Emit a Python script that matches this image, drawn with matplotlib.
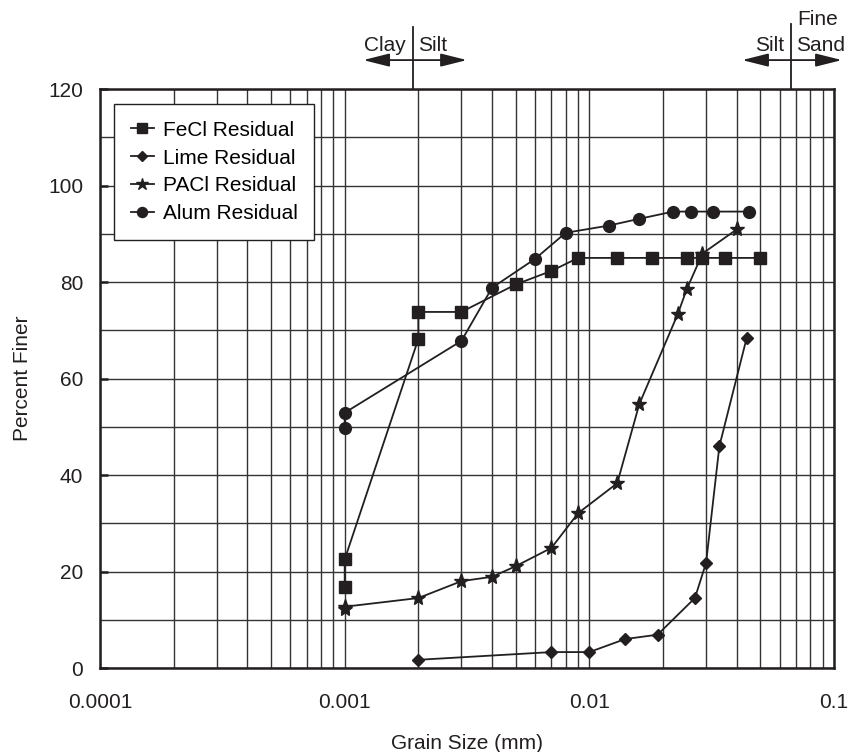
import numpy as np
import matplotlib
matplotlib.use("Agg")
import matplotlib.pyplot as plt
import matplotlib.transforms as mtransforms
from matplotlib.ticker import LogLocator, MultipleLocator, FixedLocator, NullFormatter

plt.rcParams['font.family'] = ['Liberation Sans', 'DejaVu Sans']

# grain size (mm) and percent finer for each residual
fecl_d = [0.001, 0.001, 0.002, 0.002, 0.003, 0.005, 0.007, 0.009, 0.013, 0.018, 0.025, 0.029, 0.036, 0.050]
fecl_p = [16.7, 22.5, 68.2, 73.8, 73.8, 79.5, 82.3, 85.0, 85.0, 85.0, 85.0, 85.0, 85.0, 85.0]

lime_d = [0.002, 0.007, 0.010, 0.014, 0.019, 0.027, 0.030, 0.034, 0.044]
lime_p = [1.7, 3.3, 3.3, 6.0, 6.9, 14.5, 21.8, 46.0, 68.5]

pacl_d = [0.001, 0.001, 0.002, 0.003, 0.004, 0.005, 0.007, 0.009, 0.013, 0.016, 0.023, 0.025, 0.029, 0.040]
pacl_p = [12.2, 12.7, 14.5, 18.0, 18.9, 21.1, 24.9, 32.1, 38.3, 54.7, 73.4, 78.5, 85.9, 90.9]

alum_d = [0.001, 0.001, 0.003, 0.004, 0.006, 0.008, 0.012, 0.016, 0.022, 0.026, 0.032, 0.045]
alum_p = [49.8, 52.9, 67.8, 78.8, 84.8, 90.2, 91.7, 93.1, 94.6, 94.6, 94.6, 94.6]

labels = ['FeCl Residual', 'Lime Residual', 'PACl Residual', 'Alum Residual']
x_ticks = [0.0001, 0.001, 0.01, 0.1]
x_tick_labels = ['0.0001', '0.001', '0.01', '0.1']

# soil class boundaries (mm)
CLAY_SILT = 0.0019
SILT_SAND = 0.0665

INK = '#231f20'
FS = 15

fig = plt.figure(figsize=(8.52, 7.52), dpi=100)
ax = fig.add_axes([0.1174, 0.1117, 0.8615, 0.7699])

series = [
    (fecl_d, fecl_p, 's', 8.5),
    (lime_d, lime_p, 'D', 6.5),
    (pacl_d, pacl_p, '*', 11),
    (alum_d, alum_p, 'o', 8.5),
]
for (d, p, m, ms), lab in zip(series, labels):
    ax.plot(d, p, marker=m, ms=ms, color=INK, mfc=INK, mec=INK,
            lw=1.3, label=lab, zorder=3)

ax.set_xscale('log')
ax.set_xlim(1e-4, 1e-1)
ax.set_ylim(0, 120)

ax.xaxis.set_major_locator(FixedLocator(x_ticks))
ax.set_xticklabels(x_tick_labels)
ax.xaxis.set_minor_locator(LogLocator(base=10, subs=np.arange(2, 10)))
ax.xaxis.set_minor_formatter(NullFormatter())
ax.yaxis.set_major_locator(MultipleLocator(20))
ax.yaxis.set_minor_locator(MultipleLocator(10))

ax.grid(True, which='both', color='#333333', lw=1.0)
ax.set_axisbelow(True)
for s in ax.spines.values():
    s.set_linewidth(1.8)
    s.set_color(INK)

ax.tick_params(axis='x', which='both', length=0, pad=18, labelsize=FS, colors=INK)
ax.tick_params(axis='y', which='major', direction='in', length=6, width=1.8,
               pad=12, labelsize=FS, colors=INK)
ax.tick_params(axis='y', which='minor', length=0)

ax.set_xlabel('Grain Size (mm)', fontsize=FS, color=INK, labelpad=16)
ax.set_ylabel('Percent Finer', fontsize=FS, color=INK, labelpad=12)

leg = ax.legend(loc='upper left', bbox_to_anchor=(0.019, 0.974), borderaxespad=0,
                fontsize=FS, frameon=True, fancybox=False, handlelength=1.1,
                handletextpad=0.45, labelspacing=0.42, borderpad=0.8,
                markerscale=0.85)
leg.get_frame().set_edgecolor(INK)
leg.get_frame().set_linewidth(1.0)
leg.get_frame().set_alpha(1)

# class boundary markers above the plot
trans = mtransforms.blended_transform_factory(ax.transData, ax.transAxes)
arrow = dict(arrowstyle='<|-|>,head_length=1.6,head_width=0.4', color=INK,
             lw=1.3, shrinkA=0, shrinkB=0, mutation_scale=10)


def boundary(x, x0, x1, left, right, top):
    ax.plot([x, x], [1.0, top], transform=trans, clip_on=False, color=INK, lw=1.3)
    ax.annotate('', xy=(x0, 1.05), xytext=(x1, 1.05), xycoords=trans,
                textcoords=trans, arrowprops=arrow, annotation_clip=False)
    ax.annotate(left, xy=(x, 1.076), xycoords=trans, xytext=(-5, 0),
                textcoords='offset points', ha='right', va='center',
                fontsize=FS, color=INK, annotation_clip=False)
    ax.annotate(right, xy=(x, 1.076), xycoords=trans, xytext=(4, 0),
                textcoords='offset points', ha='left', va='center',
                fontsize=FS, color=INK, annotation_clip=False)


boundary(CLAY_SILT, 0.00119, 0.00316, 'Clay', 'Silt', 1.107)
boundary(SILT_SAND, 0.0421, 0.1077, 'Silt', 'Sand', 1.112)
ax.annotate('Fine', xy=(SILT_SAND, 1.12), xycoords=trans, xytext=(5, 0),
            textcoords='offset points', ha='left', va='center',
            fontsize=FS, color=INK, annotation_clip=False)

fig.savefig('out.png', dpi=100)
